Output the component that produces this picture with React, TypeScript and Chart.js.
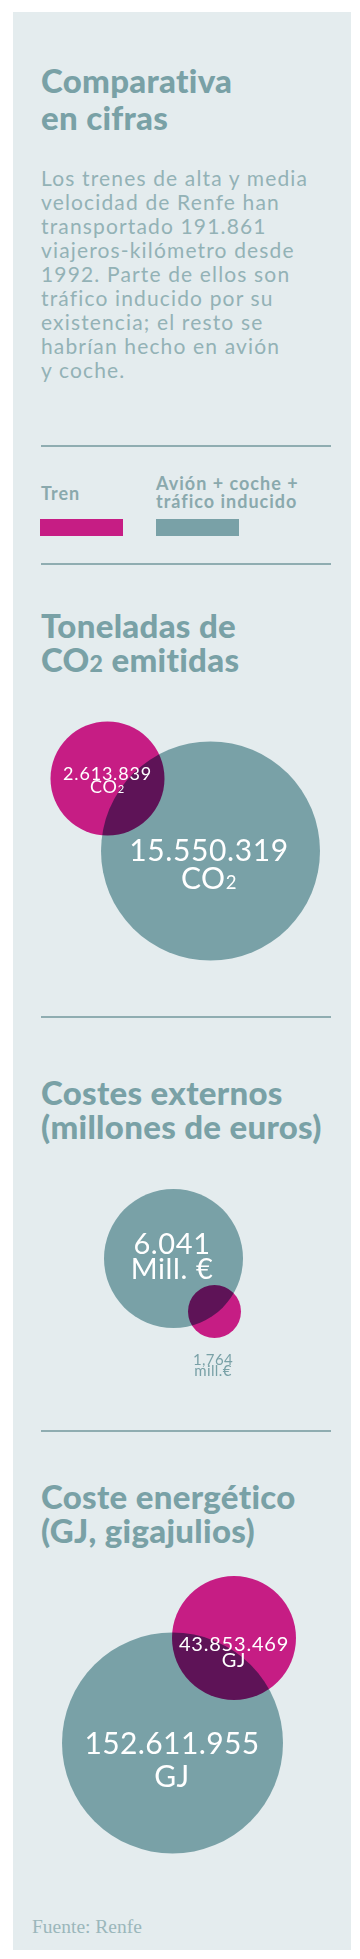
import React, { useEffect, useRef, useState } from "react";
import { Chart, registerables } from "chart.js";

Chart.register(...registerables);

// ---- Data -------------------------------------------------------------
// Series order in every array: [Tren, Avión + coche + tráfico inducido]
const seriesNames = ["Tren", "Avión + coche + tráfico inducido"];
const co2Tonnes = [2613839, 15550319];
const externalCostsMillEur = [1764, 6041];
const energyGJ = [43853469, 152611955];

const co2Units = ["CO2", "CO2"];
const costUnits = ["mill.€", "Mill. €"];
const energyUnits = ["GJ", "GJ"];
const costSeparators = [",", "."];

// ---- Styles -----------------------------------------------------------
const MAGENTA = "#c61d84";
const TEAL = "#79a1a7";
const PANEL = "#e4ecee";
const TITLE = "#79a1a6";
const BODY = "#93b2b6";
const RULE = "#8fadb1";
const SANS = "Lato, 'Open Sans', sans-serif";

function groupDigits(v: number, sep: string): string {
  const s = String(Math.round(v));
  let out = "";
  for (let i = 0; i < s.length; i++) {
    if (i > 0 && (s.length - i) % 3 === 0) out += sep;
    out += s[i];
  }
  return out;
}

type CircleLayout = {
  cx: number;
  cy: number;
  r: number;
  dx: number;
  dy: number;
  font: number;
  line: number;
  spacing: number;
  color: string;
};

type SectionSpec = {
  top: number;
  height: number;
  values: number[];
  units: string[];
  seps: string[];
  circles: CircleLayout[]; // index 0 = Tren, 1 = Avión + coche
};

const sections: SectionSpec[] = [
  {
    top: 700,
    height: 280,
    values: co2Tonnes,
    units: co2Units,
    seps: [".", "."],
    circles: [
      { cx: 107.5, cy: 78.5, r: 57, dx: 0, dy: 2.5, font: 18, line: 12.5, spacing: 0.8, color: "#ffffff" },
      { cx: 210.5, cy: 151, r: 109.5, dx: -1.5, dy: 14.5, font: 30, line: 28.5, spacing: 0.6, color: "#ffffff" },
    ],
  },
  {
    top: 1170,
    height: 230,
    values: externalCostsMillEur,
    units: costUnits,
    seps: costSeparators,
    circles: [
      { cx: 214.5, cy: 141.5, r: 26.5, dx: -1.5, dy: 53, font: 15, line: 11, spacing: 0.4, color: TEAL },
      { cx: 173.5, cy: 88.5, r: 69.5, dx: -1.5, dy: -3.5, font: 29, line: 25, spacing: 0.6, color: "#ffffff" },
    ],
  },
  {
    top: 1560,
    height: 310,
    values: energyGJ,
    units: energyUnits,
    seps: [".", "."],
    circles: [
      { cx: 234, cy: 78, r: 62, dx: 0, dy: 12.5, font: 20, line: 16.5, spacing: 0.8, color: "#ffffff" },
      { cx: 172.5, cy: 183, r: 110.5, dx: -0.5, dy: 16, font: 30, line: 33, spacing: 0.4, color: "#ffffff" },
    ],
  },
];

// Overlapping circles blend like printed inks.
const multiplyPlugin = {
  id: "multiplyBlend",
  beforeDatasetDraw(chart: any) {
    chart.ctx.save();
    chart.ctx.globalCompositeOperation = "multiply";
  },
  afterDatasetDraw(chart: any) {
    chart.ctx.restore();
  },
};

function Unit({ text }: { text: string }) {
  if (text === "CO2") {
    return (
      <>
        CO<span style={{ fontSize: "0.62em" }}>2</span>
      </>
    );
  }
  return <>{text}</>;
}

function BubblePair({ spec }: { spec: SectionSpec }) {
  const ref = useRef<HTMLCanvasElement | null>(null);
  const [labels, setLabels] = useState<{ x: number; y: number }[]>([]);
  const W = 360;

  useEffect(() => {
    if (!ref.current) return;
    const colors = [MAGENTA, TEAL];
    const chart = new Chart(ref.current, {
      type: "bubble",
      data: {
        datasets: spec.circles.map((c, i) => ({
          label: seriesNames[i],
          data: [{ x: c.cx, y: c.cy, r: c.r, v: spec.values[i] } as any],
          backgroundColor: colors[i],
          borderWidth: 0,
          hoverBorderWidth: 0,
        })),
      },
      options: {
        responsive: false,
        animation: false,
        events: [],
        layout: { padding: 0, autoPadding: false },
        clip: false as any,
        plugins: { legend: { display: false }, tooltip: { enabled: false } },
        scales: {
          x: { type: "linear", min: 0, max: W, display: false },
          y: { type: "linear", min: 0, max: spec.height, reverse: true, display: false },
        },
      },
      plugins: [multiplyPlugin],
    });
    const xs = chart.scales.x;
    const ys = chart.scales.y;
    setLabels(
      spec.circles.map((c) => ({
        x: xs.getPixelForValue(c.cx + c.dx),
        y: ys.getPixelForValue(c.cy + c.dy),
      }))
    );
    return () => chart.destroy();
  }, [spec]);

  return (
    <div style={{ position: "absolute", left: 0, top: spec.top, width: W, height: spec.height }}>
      <canvas ref={ref} width={W} height={spec.height} style={{ width: W, height: spec.height, display: "block" }} />
      {labels.map((p, i) => {
        const c = spec.circles[i];
        return (
          <div
            key={i}
            style={{
              position: "absolute",
              left: p.x,
              top: p.y,
              transform: "translate(-50%, -50%)",
              textAlign: "center",
              whiteSpace: "nowrap",
              fontFamily: SANS,
              fontWeight: 400,
              fontSize: c.font,
              lineHeight: `${c.line}px`,
              letterSpacing: `${c.spacing}px`,
              color: c.color,
            }}
          >
            {groupDigits(spec.values[i], spec.seps[i])}
            <br />
            <Unit text={spec.units[i]} />
          </div>
        );
      })}
    </div>
  );
}

const titleStyle: React.CSSProperties = {
  position: "absolute",
  left: 41,
  fontFamily: SANS,
  fontWeight: 900,
  fontSize: 33,
  color: TITLE,
  letterSpacing: "0.3px",
  whiteSpace: "nowrap",
};

function Title({ top, lines }: { top: number; lines: React.ReactNode[] }) {
  return (
    <div style={{ ...titleStyle, top, lineHeight: "34px" }}>
      {lines.map((l, i) => (
        <div key={i}>{l}</div>
      ))}
    </div>
  );
}

function Rule({ top }: { top: number }) {
  return <div style={{ position: "absolute", left: 41, top, width: 290, height: 1.5, background: RULE }} />;
}

const introLines = [
  "Los trenes de alta y media",
  "velocidad de Renfe han",
  "transportado 191.861",
  "viajeros-kilómetro desde",
  "1992. Parte de ellos son",
  "tráfico inducido por su",
  "existencia; el resto se",
  "habrían hecho en avión",
  "y coche.",
];

const legendStyle: React.CSSProperties = {
  position: "absolute",
  fontFamily: SANS,
  fontWeight: 700,
  fontSize: 18,
  lineHeight: "17.5px",
  letterSpacing: "1px",
  color: "#8aa9ad",
  whiteSpace: "nowrap",
};

export default function App() {
  return (
    <div style={{ position: "absolute", left: 0, top: 0, width: 360, height: 1959, background: "#ffffff", overflow: "hidden" }}>
      <div style={{ position: "absolute", left: 13, top: 12, width: 338, height: 1938, background: PANEL }} />

      <div style={{ ...titleStyle, top: 62, lineHeight: "36.5px" }}>
        <div>Comparativa</div>
        <div>en cifras</div>
      </div>

      <div
        style={{
          position: "absolute",
          left: 41,
          top: 166,
          fontFamily: SANS,
          fontWeight: 400,
          fontSize: 21,
          lineHeight: "24px",
          letterSpacing: "1.15px",
          color: BODY,
          whiteSpace: "nowrap",
        }}
      >
        {introLines.map((l, i) => (
          <div key={i}>{l}</div>
        ))}
      </div>

      <Rule top={445} />

      <div style={{ ...legendStyle, left: 41, top: 485 }}>{seriesNames[0]}</div>
      <div style={{ ...legendStyle, left: 156, top: 475 }}>
        <div>Avión + coche +</div>
        <div>tráfico inducido</div>
      </div>
      <div style={{ position: "absolute", left: 40, top: 519, width: 83, height: 17, background: MAGENTA }} />
      <div style={{ position: "absolute", left: 156, top: 519, width: 83, height: 17, background: TEAL }} />

      <Rule top={563} />

      <Title
        top={608}
        lines={[
          "Toneladas de",
          <>
            CO<span style={{ fontSize: "0.7em" }}>2</span> emitidas
          </>,
        ]}
      />
      <BubblePair spec={sections[0]} />

      <Rule top={1016} />

      <Title top={1075} lines={["Costes externos", "(millones de euros)"]} />
      <BubblePair spec={sections[1]} />

      <Rule top={1430} />

      <Title top={1479} lines={["Coste energético", "(GJ, gigajulios)"]} />
      <BubblePair spec={sections[2]} />

      <div
        style={{
          position: "absolute",
          left: 32,
          top: 1917,
          fontFamily: "'Liberation Serif', 'DejaVu Serif', serif",
          fontSize: 19.5,
          lineHeight: "19.5px",
          color: "#9bb7bb",
          whiteSpace: "nowrap",
        }}
      >
        Fuente: Renfe
      </div>
    </div>
  );
}
